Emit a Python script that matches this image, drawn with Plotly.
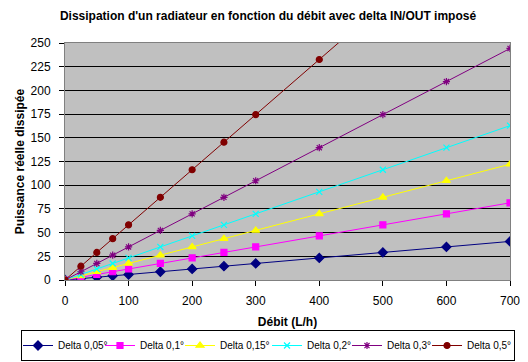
import plotly.graph_objects as go

debit = [0, 25, 50, 75, 100, 150, 200, 250, 300, 400, 500, 600, 700]
delta_005 = [0, 1.45, 2.91, 4.36, 5.82, 8.72, 11.63, 14.54, 17.45, 23.26, 29.08, 34.89, 40.71]
delta_01 = [0, 2.91, 5.82, 8.72, 11.63, 17.45, 23.26, 29.08, 34.89, 46.52, 58.15, 69.78, 81.41]
delta_015 = [0, 4.36, 8.72, 13.08, 17.45, 26.17, 34.89, 43.61, 52.34, 69.78, 87.23, 104.67, 122.12]
delta_02 = [0, 5.82, 11.63, 17.45, 23.26, 34.89, 46.52, 58.15, 69.78, 93.04, 116.3, 139.56, 162.82]
delta_03 = [0, 8.72, 17.45, 26.17, 34.89, 52.34, 69.78, 87.23, 104.67, 139.56, 174.45, 209.34, 244.23]
delta_05 = [0, 14.54, 29.08, 43.61, 58.15, 87.23, 116.3, 145.38, 174.45, 232.6, 290.75]

x_ticks = [0, 100, 200, 300, 400, 500, 600, 700]
y_ticks = [0, 25, 50, 75, 100, 125, 150, 175, 200, 225, 250]

series = [
    ("Delta 0,05°", delta_005, "#000080", "diamond", 7),
    ("Delta 0,1°", delta_01, "#FF00FF", "square", 6),
    ("Delta 0,15°", delta_015, "#FFFF00", "triangle-up", 7),
    ("Delta 0,2°", delta_02, "#00FFFF", "x-thin-open", 6),
    ("Delta 0,3°", delta_03, "#800080", "asterisk-open", 6),
    ("Delta 0,5°", delta_05, "#800000", "circle", 6),
]

# one legend per series so the entries can sit in a single compact row
legend_ids = ["legend2", "legend3", "legend4", "legend5", "legend6", "legend7"]
legend_x = [0.025, 0.1846, 0.3385, 0.5058, 0.6596, 0.8135]

fig = go.Figure()
for (name, ys, color, sym, size), lid in zip(series, legend_ids):
    fig.add_trace(go.Scatter(
        x=debit[:len(ys)], y=ys, name=name, mode="lines+markers",
        line=dict(color=color, width=1),
        marker=dict(symbol=sym, size=size, color=color,
                    line=dict(color=color, width=1.2)),
        legend=lid, showlegend=True,
    ))

font_family = "Arial, Liberation Sans, sans-serif"
# page body has an 8px margin: figure is 520x354 placed at (8, 8)
layout = dict(
    width=520, height=354, showlegend=True,
    margin=dict(l=57, r=18, t=35, b=82, autoexpand=False),
    paper_bgcolor="white", plot_bgcolor="#C0C0C0",
    font=dict(family=font_family, size=12, color="black"),
    title=dict(text="<b>Dissipation d'un radiateur en fonction du débit avec delta IN/OUT imposé</b>",
               x=0.5, xanchor="center", y=0.977, yanchor="middle",
               font=dict(size=12)),
    xaxis=dict(range=[0, 700], tickvals=x_ticks, ticks="outside", ticklen=5,
               tickcolor="black", showgrid=False, zeroline=False, automargin=False,
               showline=True, linecolor="#808080", linewidth=1, mirror=True,
               ticklabelstandoff=5,
               title=dict(text="<b>Débit (L/h)</b>", font=dict(size=12), standoff=10),
               tickfont=dict(size=12)),
    yaxis=dict(range=[0, 250], tickvals=y_ticks, ticks="outside", ticklen=5,
               tickcolor="black", showgrid=True, gridcolor="black", gridwidth=1,
               zeroline=False, showline=True, linecolor="#808080", linewidth=1, mirror=True,
               automargin=False, ticklabelstandoff=6,
               title=dict(text="<b>Puissance réelle dissipée</b>", font=dict(size=12), standoff=3),
               tickfont=dict(size=12)),
)
for i, (lid, lx) in enumerate(zip(legend_ids, legend_x)):
    cfg = dict(orientation="h", xref="container", yref="container",
               x=lx, xanchor="left", y=0.0466, yanchor="middle",
               bgcolor="rgba(0,0,0,0)", borderwidth=0,
               font=dict(size=10), itemwidth=30, indentation=-4)
    if i == 0:
        # first legend carries the frame spanning the whole legend row
        cfg.update(borderwidth=1, bordercolor="black",
                   entrywidth=451, entrywidthmode="pixels")
    layout[lid] = cfg
fig.update_layout(**layout)

fig.write_html("out.html")
